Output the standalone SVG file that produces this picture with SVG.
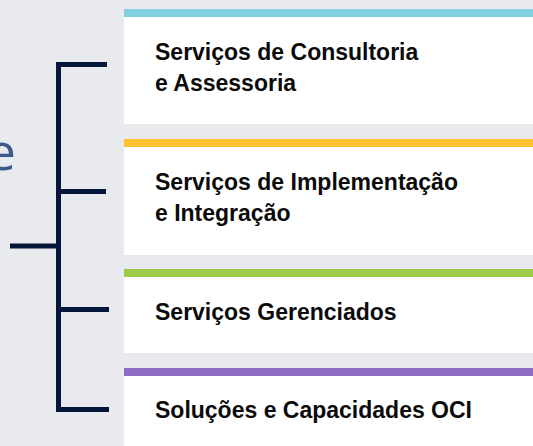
<svg xmlns="http://www.w3.org/2000/svg" width="533" height="446" viewBox="0 0 533 446">
<style>
.card{fill:#FFFFFF}
.lbl{font-family:"Liberation Sans",Arial,sans-serif;font-weight:bold;font-size:23px;fill:#0B0B0B}
.br{fill:none;stroke:#04173A;stroke-width:5;stroke-linejoin:miter}
</style>
<rect x="0" y="0" width="533" height="446" fill="#E9EAEE"/>
<text x="16" y="170" text-anchor="end" font-family="'Open Sans','Liberation Sans',sans-serif" font-size="52" fill="#3B5B8C">e</text>
<g id="connectors">
<path class="br" d="M107 64.5 H58.5 V409.5 H109"/>
<path class="br" d="M58.5 191.5 H106"/>
<path class="br" d="M58.5 309.5 H109"/>
<path class="br" d="M10 246 H58.5"/>
</g>
<g id="node-consultoria">
<rect class="card" x="124" y="9" width="409" height="115"/>
<rect x="124" y="9" width="409" height="8" fill="#83CFE2"/>
<text class="lbl" x="155" y="60">Serviços de Consultoria</text>
<text class="lbl" x="155" y="91">e Assessoria</text>
</g>
<g id="node-implementacao">
<rect class="card" x="124" y="139" width="409" height="116"/>
<rect x="124" y="139" width="409" height="8" fill="#FFC12F"/>
<text class="lbl" x="155" y="190">Serviços de Implementação</text>
<text class="lbl" x="155" y="221">e Integração</text>
</g>
<g id="node-gerenciados">
<rect class="card" x="124" y="269" width="409" height="84"/>
<rect x="124" y="269" width="409" height="8" fill="#9DCB49"/>
<text class="lbl" x="155" y="320">Serviços Gerenciados</text>
</g>
<g id="node-oci">
<rect class="card" x="124" y="368" width="409" height="78"/>
<rect x="124" y="368" width="409" height="8" fill="#8E6CC6"/>
<text class="lbl" x="155" y="418">Soluções e Capacidades OCI</text>
</g>
</svg>
